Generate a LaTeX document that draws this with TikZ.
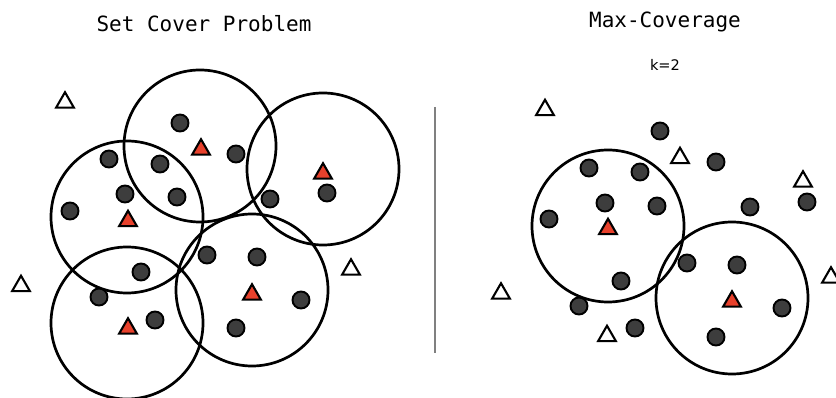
\documentclass[tikz,border=0pt]{standalone}
\usepackage{fontspec}
\setmonofont{DejaVu Sans Mono}
\newfontfamily\kfont{DejaVu Sans}
\usetikzlibrary{shapes.geometric}
\definecolor{dotgray}{RGB}{61,61,61}
\definecolor{trired}{RGB}{232,65,44}
\tikzset{
  elem/.style={circle, draw=black, line width=1.9pt, fill=dotgray, inner sep=0pt, minimum size=17pt},
  site/.style={regular polygon, regular polygon sides=3, draw=black, line width=2.1pt, line join=miter, inner sep=0pt, minimum size=20.5pt},
  chosen/.style={site, fill=trired},
  unused/.style={site, fill=white},
  ring/.style={circle, draw=black, line width=2.7pt, inner sep=0pt, minimum size=152pt},
  title/.style={anchor=base, font=\fontsize{21}{24}\selectfont\ttfamily}
}
\begin{document}
\begin{tikzpicture}[x=1pt, y=-1pt, line cap=round]
  \useasboundingbox (0,0) rectangle (836,398);
  % titles
  \node[title] (tleft) at (204,32) {Set Cover Problem};
  \node[title] (tright) at (665,28) {Max-Coverage};
  \node[anchor=base, font=\fontsize{14.6}{17}\kfont] (kval) at (665,71) {k=2};
  % left: set cover
  \foreach \x/\y [count=\i] in {200/146, 127/217, 323/169, 252/290, 127/323}
    \node[ring] (lset\i) at (\x,\y) {};
  \foreach \x/\y [count=\i] in {180/123, 236/154, 109/159, 160/164, 125/194, 177/197, 70/211, 270/199,
      327/193, 207/255, 257/257, 141/272, 99/297, 301/300, 155/320, 236/328}
    \node[elem] (lel\i) at (\x,\y) {};
  \foreach \x/\y [count=\i] in {201/149.5, 128/221, 323/173.5, 252/294.5, 128/328.5}
    \node[chosen] (lpick\i) at (\x,\y) {};
  \foreach \x/\y [count=\i] in {65/102.5, 21/286, 351/269.5}
    \node[unused] (lfree\i) at (\x,\y) {};
  % divider
  \coordinate (divtop) at (435,107);
  \coordinate (divbot) at (435,353);
  \draw[gray, line width=1.2pt, line cap=butt] (divtop) -- (divbot);
  % right: max coverage
  \foreach \x/\y [count=\i] in {608/226, 732/298}
    \node[ring] (rset\i) at (\x,\y) {};
  \foreach \x/\y [count=\i] in {660/131, 716/162, 589/168, 640/172, 605/203, 657/206, 549/219, 750/207,
      807/202, 687/263, 737/265, 621/281, 579/306, 782/308, 635/328, 716/337}
    \node[elem] (rel\i) at (\x,\y) {};
  \foreach \x/\y [count=\i] in {608/229, 732/301.5}
    \node[chosen] (rpick\i) at (\x,\y) {};
  \foreach \x/\y [count=\i] in {545/110, 680/158, 803/181.5, 831/277.5, 501/293.5, 607/336}
    \node[unused] (rfree\i) at (\x,\y) {};
\end{tikzpicture}
\end{document}
